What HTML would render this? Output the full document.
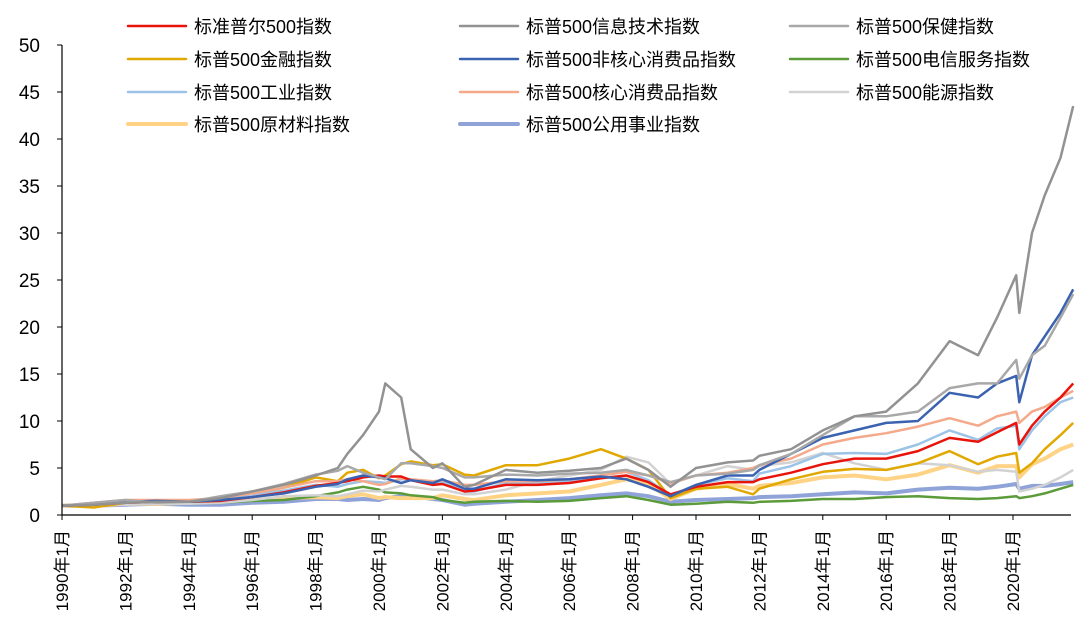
<!DOCTYPE html>
<html><head><meta charset="utf-8"><style>
html,body{margin:0;padding:0;background:#fff;}
svg{display:block;font-family:"Liberation Sans","Noto Sans CJK SC",sans-serif;}
</style></head><body>
<svg id="chart" width="1086" height="642" viewBox="0 0 1086 642" xmlns="http://www.w3.org/2000/svg">
<g id="plot"></g>
<g id="axes"></g>
<g id="legend"></g>
</svg>
<script>
const dates = [1990,1991,1992,1993,1994,1995,1996,1997,1998,1998.7,1999,1999.5,2000,2000.2,2000.7,2001,2001.7,2002,2002.7,2003,2004,2005,2006,2007,2007.8,2008.5,2009.2,2010,2011,2011.8,2012,2013,2014,2015,2016,2017,2018,2018.9,2019.5,2020.1,2020.2,2020.6,2021,2021.5,2021.9];
const spx = [1,1.1,1.3,1.4,1.4,1.5,1.9,2.4,3.1,3.4,3.6,4,4.2,4.1,4.1,3.7,3.2,3.3,2.5,2.6,3.2,3.2,3.4,3.9,4.2,3.5,2.2,3,3.5,3.5,3.8,4.5,5.4,6,6,6.8,8.2,7.8,8.8,9.8,7.5,9.5,11,12.5,14];
const infoTech = [1,1.1,1.3,1.4,1.4,1.8,2.5,3.2,4.2,5,6.5,8.5,11,14,12.5,7,5,5.5,3,3.2,4.8,4.5,4.7,5,6,4.8,3,5,5.6,5.8,6.3,7,9,10.5,11,14,18.5,17,21,25.5,21.5,30,34,38,43.5];
const health = [1,1.3,1.6,1.3,1.4,2,2.5,3.3,4.3,4.7,5.2,4.5,4,3.8,5.5,5.5,5.2,5,4,4,4.3,4.2,4.4,4.5,4.8,4.2,3.5,4.2,4.4,4.8,5.3,6.5,8.5,10.5,10.5,11,13.5,14,14,16.5,14.5,17,18,21,23.5];
const financials = [1,0.8,1.3,1.5,1.4,1.5,2.2,2.9,4,3.6,4.5,4.8,3.9,4.2,5.4,5.7,5.3,5.4,4.3,4.2,5.3,5.3,6,7,6,4.8,1.8,2.8,3,2.2,2.8,3.8,4.6,4.9,4.8,5.5,6.8,5.4,6.2,6.6,4.5,5.5,7,8.5,9.8];
const discretionary = [1,1.1,1.4,1.5,1.4,1.6,1.9,2.3,3,3.3,3.8,4.2,4,3.9,3.4,3.7,3.4,3.8,2.8,2.8,3.8,3.7,3.8,4.1,3.8,3,2,3.2,4.2,4.2,4.8,6.5,8.2,9,9.8,10,13,12.5,14,14.8,12,17,19,21.5,24];
const telecom = [1,1.1,1.3,1.3,1.2,1.3,1.5,1.6,2,2.4,2.7,3,2.7,2.4,2.3,2.1,1.9,1.6,1.3,1.4,1.5,1.4,1.5,1.8,2,1.6,1.1,1.2,1.4,1.3,1.4,1.5,1.7,1.7,1.9,2,1.8,1.7,1.8,2,1.8,2,2.3,2.8,3.2];
const industrials = [1,1.1,1.3,1.4,1.5,1.7,2.1,2.6,3.2,3,3.3,3.6,3.5,3.4,3.8,3.8,3.2,3.5,2.5,2.5,3.4,3.4,3.6,4.2,4.6,3.7,2.1,3.2,3.9,3.6,4.4,5.2,6.5,6.6,6.5,7.5,9,8,9.2,9.5,7,9,10.5,12,12.5];
const staples = [1,1.3,1.6,1.6,1.6,1.8,2.3,2.9,3.6,3.6,3.8,3.6,3.2,3.3,3.9,3.8,3.6,3.7,3.2,3.2,3.6,3.6,3.8,4.2,4.6,4.2,3.4,4.2,4.5,5,5.3,6,7.5,8.2,8.7,9.4,10.3,9.5,10.5,11,9.8,11,11.5,12.5,13.2];
const energy = [1,1.1,1.1,1.2,1.2,1.3,1.6,2,2.1,2,2.2,2.6,2.5,2.7,3.1,3,2.7,2.7,2.2,2.2,2.7,3.6,4.2,4.8,6.2,5.6,3.3,4.2,5.2,4.8,5.2,5.6,6.6,5.5,4.8,5.5,5.3,4.6,4.8,4.6,2.5,2.8,3.2,4,4.8];
const materials = [1,1,1.2,1.2,1.3,1.4,1.6,1.8,1.9,1.8,2,2.2,1.8,1.9,1.8,1.8,1.8,2.1,1.7,1.6,2.1,2.3,2.5,3.2,3.8,3.3,1.7,2.8,3.3,2.8,3.1,3.4,4,4.2,3.8,4.3,5.3,4.5,5.2,5.2,4,5.4,6,7,7.5];
const utilities = [1,1,1.1,1.2,1.1,1.1,1.3,1.4,1.7,1.7,1.6,1.7,1.6,1.8,2,2,1.7,1.6,1.1,1.2,1.4,1.6,1.8,2.1,2.3,2,1.4,1.6,1.7,1.8,1.9,2,2.2,2.4,2.3,2.7,2.9,2.8,3,3.3,2.8,3.1,3.1,3.3,3.5];
const yTicks = [0,5,10,15,20,25,30,35,40,45,50];
const xTickYears = [1990,1992,1994,1996,1998,2000,2002,2004,2006,2008,2010,2012,2014,2016,2018,2020];

const NS='http://www.w3.org/2000/svg';
const X0=62, PXY=31.7, Y0=515, PXV=9.4;
function xs(t){return X0+(t-1990)*PXY;}
function ys(v){return Y0-v*PXV;}
function mk(tag,attrs,parent){const e=document.createElementNS(NS,tag);for(const k in attrs)e.setAttribute(k,attrs[k]);parent.appendChild(e);return e;}

const series=[
 {name:'标普500公用事业指数',data:utilities,color:'#8fa3d9',w:4,key:'utilities'},
 {name:'标普500原材料指数',data:materials,color:'#ffd386',w:4,key:'materials'},
 {name:'标普500电信服务指数',data:telecom,color:'#5b9b3a',w:2.5,key:'telecom'},
 {name:'标普500能源指数',data:energy,color:'#d2d2d2',w:2.5,key:'energy'},
 {name:'标普500金融指数',data:financials,color:'#e0a800',w:2.5,key:'financials'},
 {name:'标普500工业指数',data:industrials,color:'#9dc3e6',w:2.5,key:'industrials'},
 {name:'标普500核心消费品指数',data:staples,color:'#f4a98b',w:2.5,key:'staples'},
 {name:'标准普尔500指数',data:spx,color:'#e8140c',w:2.5,key:'spx'},
 {name:'标普500非核心消费品指数',data:discretionary,color:'#3a62b0',w:2.5,key:'discretionary'},
 {name:'标普500保健指数',data:health,color:'#a8a8a8',w:2.5,key:'health'},
 {name:'标普500信息技术指数',data:infoTech,color:'#929292',w:2.5,key:'infotech'}
];
const plot=document.getElementById('plot');
series.forEach(s=>{
  const d=s.data.map((v,i)=>(i?'L':'M')+xs(dates[i]).toFixed(1)+','+ys(v).toFixed(1)).join(' ');
  const p=mk('path',{d:d,fill:'none',stroke:s.color,'stroke-width':s.w,'stroke-linejoin':'round'},plot);
  
  
});

const axes=document.getElementById('axes');
const ya=mk('line',{x1:X0,y1:ys(50),x2:X0,y2:Y0,stroke:'#000','stroke-width':1.2},axes);


const xa=mk('line',{x1:X0,y1:Y0,x2:1071,y2:Y0,stroke:'#000','stroke-width':1.2},axes);


yTicks.forEach(v=>{
  mk('line',{x1:X0-5,y1:ys(v),x2:X0,y2:ys(v),stroke:'#000'},axes);
  const t=mk('text',{x:X0-22,y:ys(v)+7,'text-anchor':'end','font-size':19,fill:'#000'},axes);
  t.textContent=v;
  
  
});
xTickYears.forEach(yr=>{
  const x=xs(yr);
  mk('line',{x1:x,y1:Y0,x2:x,y2:Y0+5,stroke:'#000'},axes);
  const t=mk('text',{x:0,y:0,'text-anchor':'end','font-size':17,fill:'#000',transform:'translate('+(x+6)+','+(Y0+15)+') rotate(-90)'},axes);
  t.textContent=yr+'年1月';
  
  
});

const legendItems=[
 ['标准普尔500指数','#e8140c',2.5],['标普500信息技术指数','#929292',2.5],['标普500保健指数','#a8a8a8',2.5],
 ['标普500金融指数','#e0a800',2.5],['标普500非核心消费品指数','#3a62b0',2.5],['标普500电信服务指数','#5b9b3a',2.5],
 ['标普500工业指数','#9dc3e6',2.5],['标普500核心消费品指数','#f4a98b',2.5],['标普500能源指数','#d2d2d2',2.5],
 ['标普500原材料指数','#ffd386',4],['标普500公用事业指数','#8fa3d9',4]
];
const colX=[128,460,790], rowY=[26,59,92,124];
const lg=document.getElementById('legend');
legendItems.forEach((it,i)=>{
  const c=i%3, r=Math.floor(i/3);
  const g=mk('g',{},lg);
  
  
  mk('line',{x1:colX[c],y1:rowY[r],x2:colX[c]+58,y2:rowY[r],stroke:it[1],'stroke-width':it[2],'stroke-linecap':'round'},g);
  const t=mk('text',{x:colX[c]+66,y:rowY[r]+7,'font-size':18,fill:'#000'},g);
  t.textContent=it[0];
});
</script>
</body></html>
